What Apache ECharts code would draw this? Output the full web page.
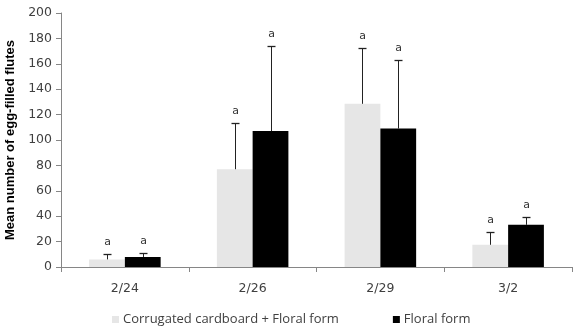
<!DOCTYPE html>
<html><head><meta charset="utf-8">
<script src="https://cdn.jsdelivr.net/npm/echarts@6/dist/echarts.min.js"></script>
<style>html,body{margin:0;padding:0;background:#fff}#c{width:573px;height:326px}</style>
</head><body><div id="c"></div>
<script>
const categories = ['2/24', '2/26', '2/29', '3/2'];
const seriesNames = ['Corrugated cardboard + Floral form', 'Floral form'];
const cardboardMean = [6, 77, 128.5, 17.5];
const cardboardErrTop = [10.2, 113, 172.4, 27.2];
const floralMean = [7.9, 107, 109, 33.2];
const floralErrTop = [11, 173.7, 162.8, 39.2];
const sigLetters1 = ['a', 'a', 'a', 'a'];
const sigLetters2 = ['a', 'a', 'a', 'a'];
const yTicks = [0, 20, 40, 60, 80, 100, 120, 140, 160, 180, 200];

const chart = echarts.init(document.getElementById('c'), null, {renderer: 'canvas'});
const tickFont = 'DejaVu Sans';
const textColor = '#404040';

function errSeries(means, tops, letters, side) {
  return {
    type: 'custom',
    silent: true,
    z: 5,
    data: means.map((m, i) => [i, m, tops[i]]),
    renderItem: function (params, api) {
      const i = api.value(0);
      const band = api.size([1, 0])[0];
      const off = side * band * 0.14;
      const pBase = api.coord([i, api.value(1)]);
      const pTop = api.coord([i, api.value(2)]);
      const x = Math.round(pBase[0] + off) + 0.5;
      const yB = pBase[1], yT = Math.round(pTop[1]) + 0.5;
      return {
        type: 'group',
        children: [
          {type: 'line', shape: {x1: x, y1: yB, x2: x, y2: yT}, style: {stroke: '#222', lineWidth: 1}},
          {type: 'line', shape: {x1: x - 4, y1: yT, x2: x + 4, y2: yT}, style: {stroke: '#222', lineWidth: 1.3}},
          {type: 'text', style: {text: letters[i], x: x, y: yT - 12, align: 'center', verticalAlign: 'middle',
            font: '11px "DejaVu Sans"', fill: '#333'}}
        ]
      };
    }
  };
}

chart.setOption({
  animation: false,
  grid: {left: 61, right: 1, top: 13, bottom: 59, containLabel: false, outerBoundsMode: 'none'},
  legend: {
    left: 107, top: 308, itemWidth: 7, itemHeight: 7, itemGap: 54, icon: 'rect',
    data: seriesNames,
    textStyle: {fontFamily: 'Open Sans', fontSize: 13, color: textColor, padding: [0, 0, 0, -1]}
  },
  xAxis: {
    type: 'category', data: categories,
    axisLine: {lineStyle: {color: '#868686', width: 1}},
    axisTick: {show: true, length: 5, lineStyle: {color: '#868686'}},
    axisLabel: {fontFamily: tickFont, fontSize: 12.5, color: textColor, margin: 15}
  },
  yAxis: {
    type: 'value', min: yTicks[0], max: yTicks[yTicks.length - 1], interval: yTicks[1] - yTicks[0],
    name: 'Mean number of egg-filled flutes', nameLocation: 'middle', nameGap: 34,
    nameTextStyle: {fontFamily: 'Liberation Sans', fontWeight: 'bold', fontSize: 13, color: '#000'},
    axisLine: {show: true, lineStyle: {color: '#868686'}},
    axisTick: {show: true, length: 5, lineStyle: {color: '#868686'}},
    splitLine: {show: false},
    axisLabel: {fontFamily: tickFont, fontSize: 12.5, color: textColor, margin: 9}
  },
  series: [
    {name: seriesNames[0], type: 'bar', data: cardboardMean, barGap: '0%', barCategoryGap: '44%',
      itemStyle: {color: '#e6e6e6'}},
    {name: seriesNames[1], type: 'bar', data: floralMean, barGap: '0%', barCategoryGap: '44%',
      itemStyle: {color: '#000'}},
    errSeries(cardboardMean, cardboardErrTop, sigLetters1, -1),
    errSeries(floralMean, floralErrTop, sigLetters2, 1)
  ]
});
</script></body></html>
